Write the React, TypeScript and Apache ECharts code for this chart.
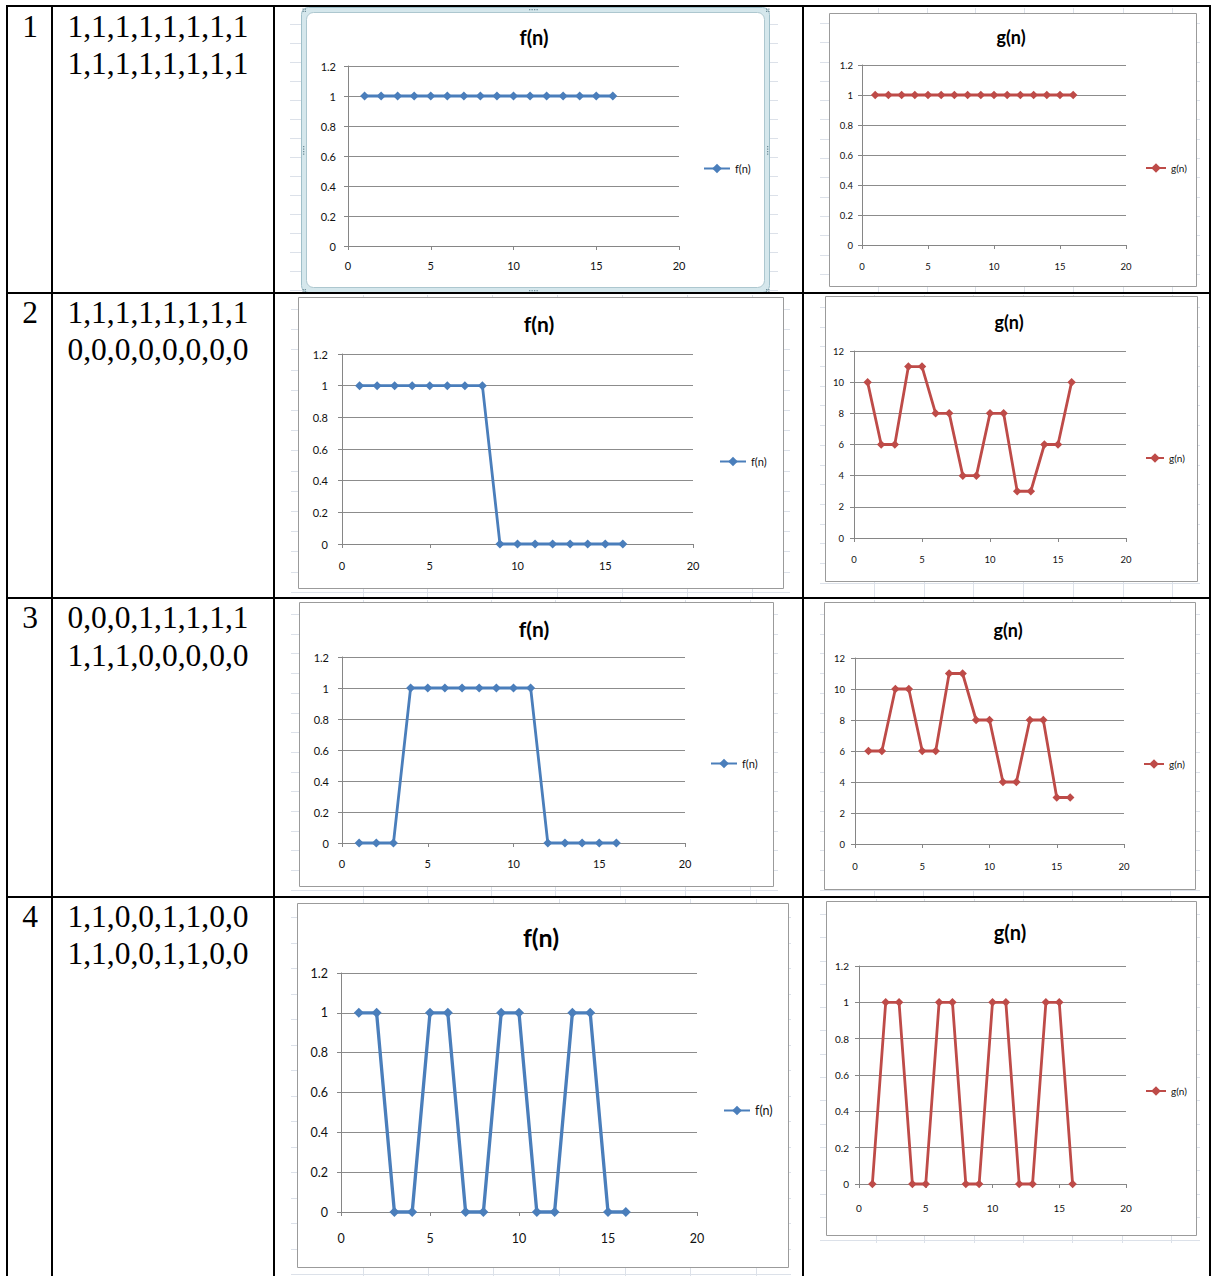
import { useEffect, useRef } from "react";
import * as echarts from "echarts";

// n = 1..16 for every sequence
const N = [1, 2, 3, 4, 5, 6, 7, 8, 9, 10, 11, 12, 13, 14, 15, 16];

const ROW_NUMBERS = ["1", "2", "3", "4"];
const ROW_SEQUENCES = [
  ["1,1,1,1,1,1,1,1", "1,1,1,1,1,1,1,1"],
  ["1,1,1,1,1,1,1,1", "0,0,0,0,0,0,0,0"],
  ["0,0,0,1,1,1,1,1", "1,1,1,0,0,0,0,0"],
  ["1,1,0,0,1,1,0,0", "1,1,0,0,1,1,0,0"],
];

const F_ROW1 = [1, 1, 1, 1, 1, 1, 1, 1, 1, 1, 1, 1, 1, 1, 1, 1];
const G_ROW1 = [1, 1, 1, 1, 1, 1, 1, 1, 1, 1, 1, 1, 1, 1, 1, 1];
const F_ROW2 = [1, 1, 1, 1, 1, 1, 1, 1, 0, 0, 0, 0, 0, 0, 0, 0];
const G_ROW2 = [10, 6, 6, 11, 11, 8, 8, 4, 4, 8, 8, 3, 3, 6, 6, 10];
const F_ROW3 = [0, 0, 0, 1, 1, 1, 1, 1, 1, 1, 1, 0, 0, 0, 0, 0];
const G_ROW3 = [6, 6, 10, 10, 6, 6, 11, 11, 8, 8, 4, 4, 8, 8, 3, 3];
const F_ROW4 = [1, 1, 0, 0, 1, 1, 0, 0, 1, 1, 0, 0, 1, 1, 0, 0];
const G_ROW4 = [0, 1, 1, 0, 0, 1, 1, 0, 0, 1, 1, 0, 0, 1, 1, 0];

const X_MIN = 0;
const X_MAX = 20;
const X_STEP = 5;

const BLUE = "#4a7ebb";
const RED = "#be4b48";
const AXIS_GRAY = "#868686";
const SHEET_LINE = "#dce1e9";
const FONT = "Lato, 'Noto Sans', sans-serif";
const SERIF = "'Liberation Serif', 'DejaVu Serif', serif";

type Panel = {
  name: string;
  values: number[];
  color: string;
  grid: [number, number, number, number];
  yMax: number;
  yStep: number;
  box: [number, number, number, number];
  title: [number, number, number];
  legend: [number, number, number, number];
  tick: number;
  yMargin: number;
  xMargin: number;
  sym: number;
  lw: number;
};

const PANELS: Panel[] = [
  { name: "f(n)", values: F_ROW1, color: BLUE, grid: [348, 66, 331, 180], yMax: 1.2, yStep: 0.2, box: [308, 13, 764, 287], title: [534, 37, 20], legend: [703, 170, 26, 11], tick: 11, yMargin: 12, xMargin: 14, sym: 9, lw: 2.8 },
  { name: "g(n)", values: G_ROW1, color: RED, grid: [862, 65, 264, 180], yMax: 1.2, yStep: 0.2, box: [829, 13, 1196, 286], title: [1011, 37, 18], legend: [1145, 170, 20, 10], tick: 9.5, yMargin: 9, xMargin: 16, sym: 8.5, lw: 2.8 },
  { name: "f(n)", values: F_ROW2, color: BLUE, grid: [342, 354, 351, 190], yMax: 1.2, yStep: 0.2, box: [298, 297, 783, 588], title: [539, 323, 21], legend: [719, 463, 26, 11], tick: 11, yMargin: 14, xMargin: 16, sym: 9, lw: 2.8 },
  { name: "g(n)", values: G_ROW2, color: RED, grid: [854, 351, 272, 187], yMax: 12, yStep: 2, box: [825, 296, 1197, 581], title: [1009, 322, 18], legend: [1145, 460, 18, 10], tick: 9.5, yMargin: 10, xMargin: 16, sym: 8.5, lw: 2.8 },
  { name: "f(n)", values: F_ROW3, color: BLUE, grid: [342, 657, 343, 186], yMax: 1.2, yStep: 0.2, box: [299, 602, 773, 886], title: [534, 628, 21], legend: [710, 765, 26, 11], tick: 11, yMargin: 13, xMargin: 15, sym: 9, lw: 2.8 },
  { name: "g(n)", values: G_ROW3, color: RED, grid: [855, 658, 269, 186], yMax: 12, yStep: 2, box: [824, 602, 1195, 889], title: [1008, 630, 18], legend: [1143, 766, 20, 10], tick: 9.5, yMargin: 10, xMargin: 17, sym: 8.5, lw: 2.8 },
  { name: "f(n)", values: F_ROW4, color: BLUE, grid: [341, 973, 356, 239], yMax: 1.2, yStep: 0.2, box: [297, 903, 788, 1267], title: [541, 937, 25], legend: [723, 1111, 26, 12.5], tick: 12.5, yMargin: 13, xMargin: 20, sym: 10, lw: 3.3 },
  { name: "g(n)", values: G_ROW4, color: RED, grid: [859, 966, 267, 218], yMax: 1.2, yStep: 0.2, box: [826, 901, 1196, 1235], title: [1010, 932, 20], legend: [1145, 1093, 20, 10], tick: 10, yMargin: 10, xMargin: 19, sym: 8.5, lw: 2.8 },
];

// faint worksheet cell lines behind each pasted chart
const SHEET_AREAS = [
  { x: [290, 778], y: [8, 292], h0: 24, dh: 19, v: [363, 428, 493, 558, 622, 686, 751] },
  { x: [820, 1200], y: [8, 292], h0: 23, dh: 19.3, v: [878, 927, 975, 1024, 1073, 1123, 1172] },
  { x: [291, 790], y: [295, 597], h0: 309, dh: 20.2, v: [363, 427, 492, 557, 622, 687, 752] },
  { x: [820, 1200], y: [295, 597], h0: 307, dh: 19.7, v: [874, 924, 973, 1023, 1073, 1123, 1172] },
  { x: [291, 778], y: [600, 896], h0: 614, dh: 19.7, v: [363, 427, 491, 555, 620, 685, 750] },
  { x: [820, 1200], y: [600, 896], h0: 614, dh: 19.7, v: [874, 923, 973, 1023, 1072, 1121, 1170] },
  { x: [291, 791], y: [899, 1276], h0: 917, dh: 25.5, v: [363, 428, 493, 559, 625, 690, 756] },
  { x: [820, 1200], y: [899, 1243], h0: 914, dh: 23.3, v: [876, 924, 974, 1023, 1072, 1122, 1171] },
];

// table rules
const TABLE_COLS = [6, 51, 273, 802, 1209];
const TABLE_ROWS = [5, 292, 597, 896];
const ROW_TEXT_Y = [
  [26.5, 63],
  [312, 349],
  [617, 655],
  [916, 953],
];

function buildOption() {
  const graphics: any[] = [];

  for (const a of SHEET_AREAS) {
    for (let y = a.h0; y <= a.y[1]; y += a.dh) {
      const yy = Math.round(y) + 0.5;
      graphics.push({ type: "line", z: -30, silent: true, shape: { x1: a.x[0], y1: yy, x2: a.x[1], y2: yy }, style: { stroke: SHEET_LINE, lineWidth: 1 } });
    }
    for (const x of a.v) {
      graphics.push({ type: "line", z: -30, silent: true, shape: { x1: x + 0.5, y1: a.y[0], x2: x + 0.5, y2: a.y[1] }, style: { stroke: SHEET_LINE, lineWidth: 1 } });
    }
  }

  PANELS.forEach((p, i) => {
    const [x1, y1, x2, y2] = p.box;
    if (i === 0) {
      // selected chart frame
      graphics.push({ type: "rect", z: -22, silent: true, shape: { x: 301.5, y: 7.5, width: 468, height: 285, r: 7 }, style: { fill: "#d5e7ec", stroke: "#9fbfc9", lineWidth: 1 } });
      graphics.push({ type: "rect", z: -21, silent: true, shape: { x: x1 - 1.5, y: y1 - 0.5, width: x2 - x1 + 2, height: y2 - y1 + 1, r: 7 }, style: { fill: "#fff", stroke: "#adc7cf", lineWidth: 1 } });
      const grip = (gx: number, gy: number) =>
        graphics.push({ type: "rect", z: -20, silent: true, shape: { x: gx, y: gy, width: 1.3, height: 1.3 }, style: { fill: "#6f8e99" } });
      [529, 531.5, 534, 536.5].forEach((gx) => { grip(gx, 9); grip(gx, 290); });
      [146, 148.5, 151, 153.5].forEach((gy) => { grip(303, gy); grip(767, gy); });
      [[302.5, 8.5], [766, 8.5], [302.5, 289], [766, 289]].forEach(([cx, cy]) => {
        grip(cx, cy); grip(cx + 2.2, cy); grip(cx, cy + 2.2); grip(cx + 2.2, cy + 2.2);
      });
    } else {
      graphics.push({ type: "rect", z: -20, silent: true, shape: { x: x1 + 0.5, y: y1 + 0.5, width: x2 - x1, height: y2 - y1 }, style: { fill: "#fff", stroke: "#9b9b9b", lineWidth: 1 } });
    }
    graphics.push({
      type: "text", z: 50, silent: true, x: p.title[0], y: p.title[1],
      style: { text: p.name, align: "center", verticalAlign: "middle", textAlign: "center", textVerticalAlign: "middle", fontSize: p.title[2], fontWeight: "bold", fontFamily: FONT, fill: "#000" },
    });
  });

  TABLE_COLS.forEach((x) => {
    graphics.push({ type: "rect", z: 60, silent: true, shape: { x, y: 5, width: 2, height: 1276 - 5 }, style: { fill: "#000" } });
  });
  TABLE_ROWS.forEach((y) => {
    graphics.push({ type: "rect", z: 60, silent: true, shape: { x: 6, y, width: 1211 - 6, height: 2 }, style: { fill: "#000" } });
  });

  ROW_NUMBERS.forEach((num, r) => {
    graphics.push({
      type: "text", z: 60, silent: true, x: 30, y: ROW_TEXT_Y[r][0],
      style: { text: num, align: "center", verticalAlign: "middle", textAlign: "center", textVerticalAlign: "middle", fontSize: 31.5, fontFamily: SERIF, fill: "#000" },
    });
    ROW_SEQUENCES[r].forEach((line, k) => {
      graphics.push({
        type: "text", z: 60, silent: true, x: 158, y: ROW_TEXT_Y[r][k],
        style: { text: line, align: "center", verticalAlign: "middle", textAlign: "center", textVerticalAlign: "middle", fontSize: 31.5, fontFamily: SERIF, fill: "#000" },
      });
    });
  });

  return {
    animation: false,
    backgroundColor: "#ffffff",
    grid: PANELS.map((p) => ({ left: p.grid[0], top: p.grid[1], width: p.grid[2], height: p.grid[3], containLabel: false })),
    xAxis: PANELS.map((p, i) => ({
      gridIndex: i,
      type: "value",
      min: X_MIN,
      max: X_MAX,
      interval: X_STEP,
      axisLine: { show: true, onZero: false, lineStyle: { color: AXIS_GRAY, width: 1 } },
      axisTick: { show: true, length: 4, lineStyle: { color: AXIS_GRAY } },
      splitLine: { show: false },
      axisLabel: { color: "#111", fontSize: p.tick, fontFamily: FONT, margin: p.xMargin },
    })),
    yAxis: PANELS.map((p, i) => ({
      gridIndex: i,
      type: "value",
      min: 0,
      max: p.yMax,
      interval: p.yStep,
      axisLine: { show: true, lineStyle: { color: AXIS_GRAY, width: 1 } },
      axisTick: { show: true, length: 4, lineStyle: { color: AXIS_GRAY } },
      splitLine: { show: true, lineStyle: { color: "#8c8c8c", width: 1 } },
      axisLabel: { color: "#111", fontSize: p.tick, fontFamily: FONT, margin: p.yMargin },
    })),
    legend: PANELS.map((p) => ({
      left: p.legend[0],
      top: p.legend[1] - 7,
      data: [p.name],
      itemWidth: p.legend[2],
      itemHeight: 12,
      itemGap: 0,
      padding: 0,
      selectedMode: false,
      textStyle: { fontSize: p.legend[3], fontFamily: FONT, color: "#111" },
    })),
    series: PANELS.map((p, i) => ({
      type: "line",
      name: p.name,
      xAxisIndex: i,
      yAxisIndex: i,
      data: N.map((n, k) => [n, p.values[k]]),
      symbol: "diamond",
      symbolSize: p.sym,
      showSymbol: true,
      clip: false,
      z: 3,
      lineStyle: { color: p.color, width: p.lw },
      itemStyle: { color: p.color },
      emphasis: { disabled: true },
    })),
    graphic: { elements: graphics },
  };
}

export default function App() {
  const ref = useRef<HTMLDivElement>(null);
  useEffect(() => {
    if (!ref.current) return;
    const chart = echarts.init(ref.current, undefined, { renderer: "svg" });
    chart.setOption(buildOption() as any);
    return () => chart.dispose();
  }, []);
  return (
    <div
      ref={ref}
      style={{ position: "absolute", left: 0, top: 0, width: 1217, height: 1276, background: "#fff" }}
    />
  );
}
